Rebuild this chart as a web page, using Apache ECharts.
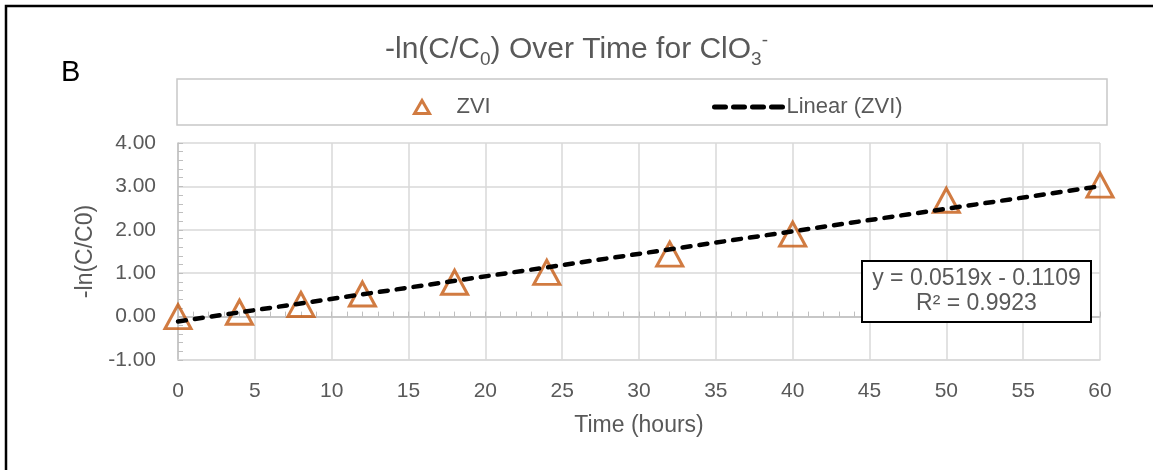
<!DOCTYPE html>
<html>
<head>
<meta charset="utf-8">
<script src="https://cdn.jsdelivr.net/npm/echarts@6.0.0/dist/echarts.min.js"></script>
<style>
  html, body { margin: 0; padding: 0; background: #fff; }
  #chart { width: 1153px; height: 470px; }
</style>
</head>
<body>
<div id="chart"></div>
<script>
// time points (hours) and -ln(C/C0)
var hours = [0, 4, 8, 12, 18, 24, 32, 40, 50, 60];
var lnRatio = [0.00, 0.10, 0.28, 0.52, 0.79, 1.02, 1.44, 1.90, 2.68, 3.03];
// trendline ends, from the printed fit y = 0.0519x - 0.1109
var trendX = [0, 60];
var trendY = [-0.1109, 3.0031];
var xTicks = [0, 5, 10, 15, 20, 25, 30, 35, 40, 45, 50, 55, 60];
var yTicks = [-1, 0, 1, 2, 3, 4];

var grey = '#595959';
var font = 'Liberation Sans, Arial, sans-serif';

var chart = echarts.init(document.getElementById('chart'));

var option = {
  backgroundColor: '#fff',
  animation: false,
  title: {
    text: '{t|-ln(C/C}{sub|0}{t|) Over Time for ClO}{sub|3}{sup|-}',
    left: 'center',
    top: 26,
    textStyle: {
      fontWeight: 'normal',
      rich: {
        t: { fontSize: 30, color: grey, fontFamily: font, fontWeight: 'normal', lineHeight: 38 },
        sub: { fontSize: 19, color: grey, fontFamily: font, fontWeight: 'normal', lineHeight: 17, verticalAlign: 'bottom' },
        sup: { fontSize: 19, color: grey, fontFamily: font, fontWeight: 'normal', lineHeight: 17, verticalAlign: 'top' }
      }
    }
  },
  legend: [
    {
      data: ['ZVI'],
      left: 408,
      top: 91,
      itemWidth: 15,
      itemHeight: 13,
      itemStyle: { borderWidth: 3 },
      textStyle: { color: grey, fontSize: 22, fontFamily: font, padding: [0, 0, 0, 22] }
    },
    {
      data: ['Linear (ZVI)'],
      left: 707,
      top: 91,
      itemWidth: 70,
      itemHeight: 14,
      itemStyle: { opacity: 0 },
      lineStyle: { color: '#000', width: 5, type: [11, 8], cap: 'round' },
      textStyle: { color: grey, fontSize: 22, fontFamily: font, padding: [0, 0, 0, -3] }
    }
  ],
  grid: {
    left: 178,
    right: 53,
    top: 143,
    bottom: 110,
    containLabel: false,
    outerBoundsMode: 'none'
  },
  xAxis: [
    {
      type: 'value',
      min: xTicks[0],
      max: xTicks[xTicks.length - 1],
      interval: 5,
      position: 'bottom',
      name: 'Time (hours)',
      nameLocation: 'middle',
      nameGap: 54,
      nameTextStyle: { color: grey, fontSize: 23, fontFamily: font },
      axisLine: { onZero: false, lineStyle: { color: '#d9d9d9', width: 1.5 } },
      axisTick: { show: false },
      axisLabel: { color: grey, fontSize: 21, fontFamily: font, margin: 21 },
      splitLine: { lineStyle: { color: '#d9d9d9', width: 1.5 } }
    },
    {
      type: 'value',
      min: xTicks[0],
      max: xTicks[xTicks.length - 1],
      interval: 5,
      position: 'top',
      axisLine: { onZero: true, lineStyle: { color: '#bfbfbf', width: 1.5 } },
      axisTick: { show: true, length: 5, lineStyle: { color: '#bfbfbf' } },
      minorTick: { show: true, splitNumber: 5, length: 5, lineStyle: { color: '#bfbfbf' } },
      axisLabel: { show: false },
      splitLine: { show: false }
    }
  ],
  yAxis: {
    type: 'value',
    min: yTicks[0],
    max: yTicks[yTicks.length - 1],
    interval: 1,
    name: '-ln(C/C0)',
    nameLocation: 'middle',
    nameGap: 44,
    nameRotate: 90,
    nameTextStyle: { color: grey, fontSize: 23, fontFamily: font },
    axisLine: { show: true, onZero: false, lineStyle: { color: '#bfbfbf', width: 1.5 } },
    axisTick: { show: true, inside: true, length: 5, lineStyle: { color: '#bfbfbf' } },
    minorTick: { show: true, splitNumber: 5, length: 5, lineStyle: { color: '#bfbfbf' } },
    axisLabel: {
      color: grey, fontSize: 21, fontFamily: font, margin: 22,
      formatter: function (v) { return v.toFixed(2); }
    },
    splitLine: { lineStyle: { color: '#d9d9d9', width: 1.5 } }
  },
  series: [
    {
      name: 'ZVI',
      type: 'scatter',
      symbol: 'triangle',
      symbolSize: [26, 24],
      itemStyle: { color: 'rgba(255,255,255,0)', borderColor: '#C55A11', borderWidth: 3 },
      data: hours.map(function (h, i) { return [h, lnRatio[i]]; }),
      z: 3
    },
    {
      name: 'Linear (ZVI)',
      type: 'line',
      symbol: 'none',
      lineStyle: { color: '#000', width: 4.5, type: [8, 9], cap: 'round' },
      itemStyle: { color: '#000' },
      data: trendX.map(function (x, i) { return [x, trendY[i]]; }),
      z: 4
    }
  ],
  graphic: [
    {
      type: 'rect',
      shape: { x: 6, y: 6, width: 1160, height: 480 },
      style: { fill: 'none', stroke: '#000', lineWidth: 2.5 },
      silent: true
    },
    {
      type: 'text',
      left: 61,
      top: 58,
      style: { text: 'B', fontSize: 29, fontFamily: font, fill: '#000' }
    },
    {
      type: 'rect',
      shape: { x: 177, y: 79, width: 930, height: 46 },
      style: { fill: 'none', stroke: '#c8c8c8', lineWidth: 1.5 },
      z: -1,
      silent: true
    },
    {
      type: 'rect',
      shape: { x: 862, y: 261, width: 229, height: 61 },
      style: { fill: '#fff', stroke: '#000', lineWidth: 2 },
      z: 100
    },
    {
      type: 'text',
      x: 976.5,
      y: 291.5,
      z: 101,
      style: {
        text: 'y = 0.0519x - 0.1109\nR² = 0.9923',
        fontSize: 23,
        lineHeight: 25,
        fontFamily: font,
        fill: grey,
        align: 'center',
        verticalAlign: 'middle'
      }
    }
  ]
};

option && chart.setOption(option);
window.addEventListener('resize', function () {
  chart.resize();
});
</script>
</body>
</html>
